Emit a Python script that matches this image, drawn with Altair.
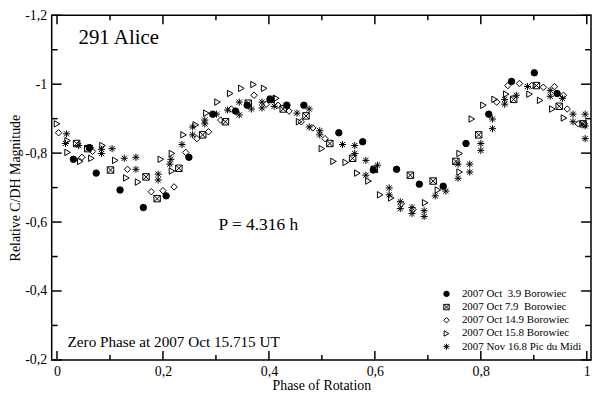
import altair as alt
import pandas as pd

series_names = [
    "2007 Oct \u00a03.9 Borowiec",
    "2007 Oct 7.9 \u00a0Borowiec",
    "2007 Oct 14.9 Borowiec",
    "2007 Oct 15.8 Borowiec",
    "2007 Nov 16.8 Pic du Midi",
]

oct03_phase = [0.031, 0.061, 0.074, 0.119, 0.163, 0.206, 0.249, 0.294, 0.337, 0.359, 0.402, 0.434,
               0.466, 0.532, 0.577, 0.597, 0.641, 0.684, 0.729, 0.772, 0.815, 0.858, 0.901, 0.944]
oct03_mag = [-0.782, -0.816, -0.742, -0.693, -0.642, -0.676, -0.788, -0.913, -0.922, -0.939, -0.956, -0.939,
             -0.939, -0.859, -0.833, -0.751, -0.753, -0.710, -0.704, -0.828, -0.913, -1.008, -1.033, -0.973]

oct07_phase = [0.037, 0.058, 0.101, 0.168, 0.189, 0.230, 0.275, 0.318, 0.361, 0.404, 0.427, 0.470,
               0.515, 0.558, 0.599, 0.667, 0.710, 0.753, 0.796, 0.862, 0.905, 0.948, 0.993]
oct07_mag = [-0.828, -0.813, -0.751, -0.731, -0.668, -0.756, -0.853, -0.891, -0.945, -0.956, -0.928, -0.908,
             -0.828, -0.785, -0.753, -0.736, -0.719, -0.776, -0.853, -0.956, -0.996, -0.936, -0.885]

oct14_phase = [0.003, 0.047, 0.067, 0.133, 0.178, 0.200, 0.221, 0.243, 0.264, 0.286, 0.309, 0.329,
               0.372, 0.395, 0.417, 0.438, 0.461, 0.483, 0.506, 0.650, 0.672, 0.830, 0.851, 0.873,
               0.896, 0.918, 0.939, 0.956, 0.963, 0.984, 0.995]
oct14_mag = [-0.859, -0.788, -0.805, -0.753, -0.688, -0.691, -0.702, -0.802, -0.842, -0.862, -0.896, -0.928,
             -0.968, -0.942, -0.939, -0.922, -0.891, -0.873, -0.842, -0.653, -0.636, -0.948, -0.996, -1.002,
             -0.996, -0.991, -0.993, -0.968, -0.928, -0.885, -0.885]

oct15_phase = [0.000, 0.020, 0.020, 0.044, 0.065, 0.086, 0.110, 0.131, 0.153, 0.196, 0.217, 0.217,
               0.239, 0.262, 0.282, 0.303, 0.327, 0.348, 0.371, 0.391, 0.414, 0.457, 0.500, 0.522,
               0.545, 0.567, 0.588, 0.610, 0.631, 0.695, 0.719, 0.760, 0.760, 0.783, 0.805, 0.826,
               0.848, 0.892, 0.912, 0.935, 0.957]
oct15_mag = [-0.885, -0.836, -0.802, -0.776, -0.785, -0.822, -0.779, -0.728, -0.716, -0.782, -0.799, -0.748,
             -0.853, -0.882, -0.916, -0.948, -0.973, -0.988, -0.999, -0.988, -0.959, -0.891, -0.813, -0.776,
             -0.773, -0.742, -0.719, -0.679, -0.670, -0.656, -0.693, -0.745, -0.799, -0.899, -0.939, -0.956,
             -0.971, -0.971, -0.953, -0.928, -0.902]

nov16_phase = [0.018, 0.016, 0.041, 0.063, 0.084, 0.084, 0.104, 0.127, 0.149, 0.149, 0.191, 0.191,
               0.215, 0.213, 0.236, 0.256, 0.256, 0.279, 0.279, 0.301, 0.322, 0.344, 0.344, 0.367,
               0.387, 0.387, 0.410, 0.432, 0.453, 0.476, 0.476, 0.496, 0.496, 0.539, 0.562, 0.562,
               0.583, 0.583, 0.605, 0.627, 0.627, 0.648, 0.648, 0.670, 0.670, 0.693, 0.693, 0.714,
               0.734, 0.757, 0.757, 0.779, 0.779, 0.800, 0.800, 0.822, 0.822, 0.845, 0.845, 0.867,
               0.888, 0.931, 0.931, 0.954, 0.974, 0.974, 0.997, 0.997, 0.997]
nov16_mag = [-0.856, -0.828, -0.822, -0.816, -0.811, -0.799, -0.813, -0.785, -0.788, -0.753, -0.739, -0.722,
             -0.782, -0.768, -0.825, -0.876, -0.853, -0.896, -0.885, -0.913, -0.925, -0.948, -0.911, -0.928,
             -0.948, -0.931, -0.936, -0.939, -0.916, -0.928, -0.876, -0.865, -0.853, -0.825, -0.822, -0.799,
             -0.779, -0.736, -0.765, -0.699, -0.679, -0.659, -0.639, -0.642, -0.625, -0.633, -0.616, -0.676,
             -0.690, -0.727, -0.768, -0.768, -0.745, -0.828, -0.808, -0.899, -0.871, -0.956, -0.942, -0.968,
             -0.993, -0.982, -0.965, -0.959, -0.913, -0.891, -0.913, -0.879, -0.842]

x_major = [0.0, 0.2, 0.4, 0.6, 0.8, 1.0]
x_minor = [0.1, 0.3, 0.5, 0.7, 0.9]
y_major = [-1.2, -1.0, -0.8, -0.6, -0.4, -0.2]
y_minor = [-1.1, -0.9, -0.7, -0.5, -0.3]

W, H = 543, 347
FONT = "Liberation Serif"

rows = []
for name, ph, mg in zip(series_names,
                        [oct03_phase, oct07_phase, oct14_phase, oct15_phase, nov16_phase],
                        [oct03_mag, oct07_mag, oct14_mag, oct15_mag, nov16_mag]):
    for p, m in zip(ph, mg):
        rows.append({"phase": p, "mag": m, "series": name})
df = pd.DataFrame(rows)

xscale = alt.Scale(domain=[-0.01, 1.008], nice=False, zero=False)
yscale = alt.Scale(domain=[-1.2, -0.2], nice=False, zero=False, reverse=True)

label_expr = "(datum.value < 0 ? '-' : '') + replace(format(abs(datum.value), '.1~f'), '.', ',')"

box_x = "M-1,-1H1V1H-1Z M-1,-1L1,1 M-1,1L1,-1"
asterisk = "M0,-1.1V1.1 M-1.1,0H1.1 M-0.8,-0.8L0.8,0.8 M-0.8,0.8L0.8,-0.8"

legend = alt.Legend(title=None, orient="none", legendX=392, legendY=275,
                    labelFont=FONT, labelFontSize=11, labelColor="black",
                    symbolSize=30, symbolStrokeWidth=1,
                    labelOffset=10, rowPadding=1.3, padding=0)

points = alt.Chart(df).mark_point(strokeWidth=1, size=42, opacity=1).encode(
    x=alt.X("phase:Q", scale=xscale,
            axis=alt.Axis(values=x_major, labelExpr=label_expr, title="Phase of Rotation",
                          ticks=False, domain=False, grid=False, labelPadding=5, titlePadding=0)),
    y=alt.Y("mag:Q", scale=yscale,
            axis=alt.Axis(values=y_major, labelExpr=label_expr, title="Relative C/DH Magnitude",
                          ticks=False, domain=False, grid=False, labelPadding=5, titlePadding=2)),
    shape=alt.Shape("series:N", scale=alt.Scale(domain=series_names,
                                                range=["circle", box_x, "diamond", "triangle-right", asterisk]),
                    legend=legend),
    fill=alt.Fill("series:N", scale=alt.Scale(domain=series_names,
                                              range=["black", "transparent", "transparent", "transparent", "transparent"]),
                  legend=legend),
    stroke=alt.Stroke("series:N", scale=alt.Scale(domain=series_names,
                                                  range=["black", "black", "black", "black", "black"]),
                      legend=legend),
)

xmaj = pd.DataFrame({"phase": x_major})
xmin = pd.DataFrame({"phase": x_minor})
ymaj = pd.DataFrame({"mag": y_major})
ymin = pd.DataFrame({"mag": y_minor})

def xticks(d, length):
    base = alt.Chart(d).mark_rule(color="black", strokeWidth=1.5)
    bottom = base.encode(x=alt.X("phase:Q", scale=xscale), y=alt.value(H), y2=alt.value(H - length))
    top = base.encode(x=alt.X("phase:Q", scale=xscale), y=alt.value(0), y2=alt.value(length))
    return [bottom, top]

def yticks(d, length):
    base = alt.Chart(d).mark_rule(color="black", strokeWidth=1.5)
    left = base.encode(y=alt.Y("mag:Q", scale=yscale), x=alt.value(0), x2=alt.value(length))
    right = base.encode(y=alt.Y("mag:Q", scale=yscale), x=alt.value(W), x2=alt.value(W - length))
    return [left, right]

tick_layers = xticks(xmaj, 9) + xticks(xmin, 5) + yticks(ymaj, 10) + yticks(ymin, 6)

def label(text, x, y, size):
    return alt.Chart(pd.DataFrame({"t": [text]})).mark_text(
        font=FONT, fontSize=size, color="black", align="left", baseline="alphabetic"
    ).encode(text="t:N", x=alt.value(x), y=alt.value(y))

texts = [
    label("291 Alice", 27, 29, 21),
    label("P = 4.316 h", 168, 216, 17.5),
    label("Zero Phase at 2007 Oct 15.715 UT", 16, 334, 15.3),
]

chart = alt.layer(points, *tick_layers, *texts).properties(
    width=W, height=H,
    autosize=alt.AutoSizeParams(type="none"),
    padding={"left": 44, "top": 6, "right": 1, "bottom": 32},
).configure(background="white").configure_view(stroke="black", strokeWidth=1.5).configure_axis(
    labelFont=FONT, labelFontSize=14, labelColor="black",
    titleFont=FONT, titleFontSize=14, titleFontWeight="normal", titleColor="black",
)

chart.save("out.html", embed_options={"renderer": "svg", "actions": False})
